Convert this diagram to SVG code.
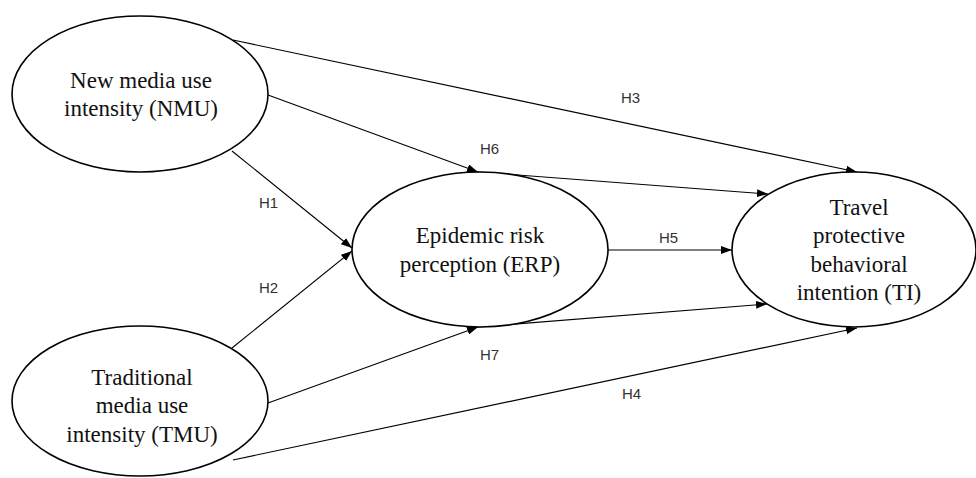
<svg xmlns="http://www.w3.org/2000/svg" width="976" height="478" viewBox="0 0 976 478">
<style>
.node ellipse{fill:#fff;stroke:#000;stroke-width:1.6}
.node text{font-family:"Liberation Serif","Times New Roman",serif;font-size:23px;fill:#111;text-anchor:middle}
.edge line{stroke:#000;stroke-width:1.1;fill:none}
.lbl{font-family:"Liberation Sans",Arial,sans-serif;font-size:15px;fill:#333}
</style>
<defs>
<marker id="arr" markerUnits="userSpaceOnUse" markerWidth="11" markerHeight="8" refX="11" refY="4" orient="auto">
<path d="M0,0 L11,4 L0,8 z" fill="#000"/>
</marker>
</defs>
<rect width="976" height="478" fill="#fff"/>
<g id="connectors" class="edge">
<line x1="233" y1="40" x2="857" y2="172" marker-end="url(#arr)"/>
<line x1="268" y1="95" x2="478" y2="172" marker-end="url(#arr)"/>
<line x1="478" y1="172" x2="768" y2="194" marker-end="url(#arr)"/>
<line x1="232" y1="151" x2="352" y2="248" marker-end="url(#arr)"/>
<line x1="232" y1="348" x2="352" y2="251" marker-end="url(#arr)"/>
<line x1="608" y1="250" x2="732" y2="250" marker-end="url(#arr)"/>
<line x1="268" y1="403" x2="478" y2="327" marker-end="url(#arr)"/>
<line x1="478" y1="327" x2="767" y2="304" marker-end="url(#arr)"/>
<line x1="233" y1="460" x2="857" y2="328" marker-end="url(#arr)"/>
<text class="lbl" x="621" y="103">H3</text>
<text class="lbl" x="480" y="154">H6</text>
<text class="lbl" x="259" y="208">H1</text>
<text class="lbl" x="259" y="293">H2</text>
<text class="lbl" x="659" y="243">H5</text>
<text class="lbl" x="480" y="360">H7</text>
<text class="lbl" x="622" y="399">H4</text>
</g>
<g id="NMU" class="node">
<ellipse cx="140" cy="94" rx="128" ry="78"/>
<text x="141" y="88">New media use</text>
<text x="141" y="116">intensity (NMU)</text>
</g>
<g id="TMU" class="node">
<ellipse cx="140" cy="401" rx="128" ry="75"/>
<text x="142" y="385">Traditional</text>
<text x="142" y="413">media use</text>
<text x="142" y="442">intensity (TMU)</text>
</g>
<g id="ERP" class="node">
<ellipse cx="480" cy="249.5" rx="128" ry="77.5"/>
<text x="480" y="243">Epidemic risk</text>
<text x="480" y="272">perception (ERP)</text>
</g>
<g id="TI" class="node">
<ellipse cx="854" cy="249.5" rx="122" ry="77.5"/>
<text x="859" y="215">Travel</text>
<text x="859" y="243">protective</text>
<text x="859" y="272">behavioral</text>
<text x="859" y="300">intention (TI)</text>
</g>
</svg>
